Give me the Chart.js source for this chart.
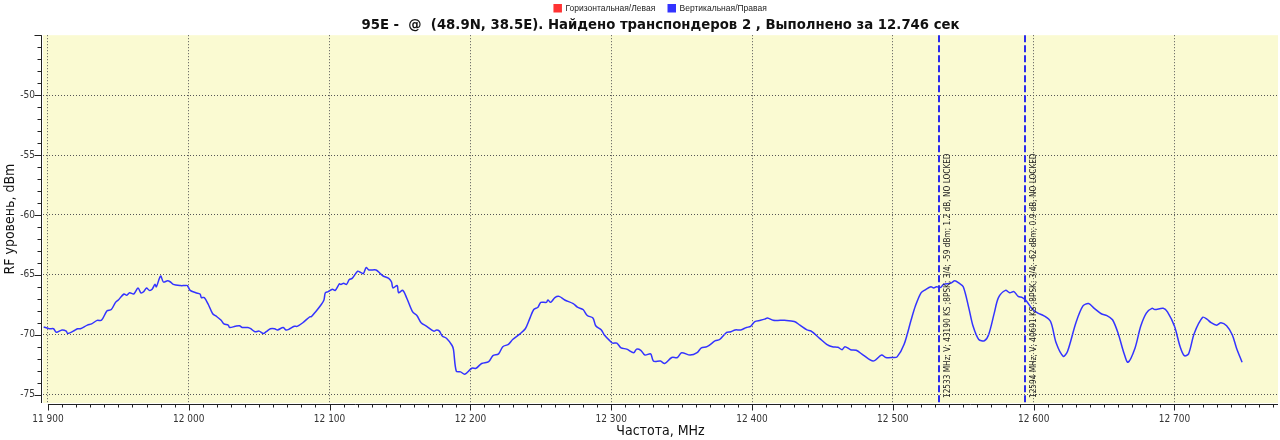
<!DOCTYPE html>
<html>
<head>
<meta charset="utf-8">
<script src="https://cdn.jsdelivr.net/npm/chart.js@4/dist/chart.umd.min.js"></script>
<style>
  body { margin: 0; background: #fff; }
  #wrap { width: 1280px; height: 440px; }
</style>
</head>
<body>
<div id="wrap"><canvas id="spectrum" width="1280" height="440"></canvas></div>
<script>
// spectrum trace, vertical polarisation (MHz / dBm)
const freqs = [
  11897, 11901, 11904, 11906, 11910, 11913, 11914, 11918, 11921, 11923,
  11928, 11931, 11935, 11938, 11942, 11945, 11948, 11950, 11954, 11956,
  11958, 11961, 11964, 11966, 11968, 11970, 11972, 11974, 11976, 11977,
  11980, 11982, 11985, 11987, 11989, 11994, 11997, 11999, 12001, 12005,
  12008, 12009, 12011, 12014, 12017, 12020, 12023, 12025, 12028, 12029,
  12033, 12036, 12038, 12042, 12044, 12047, 12050, 12053, 12055, 12058,
  12061, 12063, 12067, 12069, 12071, 12075, 12077, 12081, 12086, 12087,
  12090, 12094, 12096, 12097, 12099, 12102, 12104, 12107, 12108, 12110,
  12112, 12114, 12116, 12120, 12122, 12124, 12126, 12128, 12133, 12136,
  12138, 12142, 12144, 12145, 12148, 12149, 12152, 12155, 12159, 12162,
  12165, 12169, 12174, 12176, 12178, 12180, 12183, 12187, 12188, 12190,
  12193, 12196, 12201, 12204, 12208, 12213, 12216, 12220, 12223, 12227,
  12230, 12235, 12239, 12242, 12245, 12248, 12250, 12254, 12255, 12257,
  12260, 12263, 12267, 12273, 12276, 12280, 12283, 12287, 12289, 12293,
  12295, 12299, 12301, 12304, 12307, 12311, 12316, 12318, 12321, 12324,
  12328, 12330, 12335, 12338, 12343, 12347, 12350, 12356, 12361, 12364,
  12368, 12374, 12377, 12382, 12385, 12388, 12392, 12396, 12399, 12402,
  12406, 12409, 12411, 12415, 12420, 12423, 12430, 12434, 12439, 12442,
  12448, 12453, 12457, 12461, 12464, 12466, 12470, 12474, 12479, 12486,
  12492, 12495, 12500, 12503, 12508, 12513, 12516, 12520, 12523, 12527,
  12529, 12531, 12534, 12536, 12541, 12544, 12547, 12550, 12554, 12557,
  12561, 12565, 12568, 12572, 12575, 12580, 12583, 12586, 12589, 12592,
  12595, 12599, 12603, 12607, 12612, 12616, 12621, 12624, 12630, 12635,
  12639, 12643, 12648, 12652, 12656, 12660, 12664, 12667, 12672, 12676,
  12680, 12684, 12686, 12692, 12695, 12700, 12704, 12707, 12710, 12714,
  12720, 12723, 12726, 12730, 12733, 12737, 12741, 12744, 12748
];
const levelsV = [
  -69.35, -69.5, -69.5, -69.8, -69.6, -69.7, -69.9, -69.7, -69.5, -69.5,
  -69.2, -69.1, -68.8, -68.8, -68.0, -67.9, -67.3, -67.1, -66.6, -66.7,
  -66.5, -66.6, -66.1, -66.5, -66.4, -66.1, -66.3, -66.2, -65.8, -66.0,
  -65.1, -65.6, -65.5, -65.6, -65.8, -65.9, -65.9, -65.9, -66.3, -66.5,
  -66.6, -66.9, -66.9, -67.5, -68.25, -68.5, -68.8, -69.1, -69.2, -69.4,
  -69.3, -69.25, -69.4, -69.4, -69.5, -69.75, -69.7, -69.9, -69.75, -69.5,
  -69.5, -69.6, -69.4, -69.6, -69.55, -69.3, -69.3, -69.0, -68.5, -68.5,
  -68.1, -67.5, -67.1, -66.5, -66.4, -66.2, -66.3, -65.75, -65.8, -65.7,
  -65.8, -65.4, -65.3, -64.7, -64.8, -64.9, -64.4, -64.6, -64.6, -64.9,
  -65.1, -65.3, -65.6, -66.1, -65.9, -66.5, -66.3, -67.0, -68.1, -68.4,
  -69.0, -69.3, -69.7, -69.6, -69.7, -70.1, -70.3, -70.9, -71.25, -73.05,
  -73.1, -73.3, -72.8, -72.8, -72.4, -72.25, -71.75, -71.6, -71.0, -70.8,
  -70.4, -69.95, -69.5, -68.7, -67.9, -67.7, -67.3, -67.3, -67.1, -67.3,
  -66.9, -66.8, -67.1, -67.4, -67.7, -67.9, -68.4, -68.6, -69.25, -69.6,
  -70.0, -70.5, -70.7, -70.7, -71.1, -71.2, -71.5, -71.2, -71.3, -71.7,
  -71.6, -72.2, -72.2, -72.4, -71.9, -71.9, -71.5, -71.7, -71.5, -71.1,
  -71.0, -70.5, -70.4, -69.8, -69.75, -69.6, -69.6, -69.4, -69.3, -68.9,
  -68.8, -68.7, -68.6, -68.8, -68.8, -68.8, -68.9, -69.2, -69.6, -69.7,
  -70.3, -70.8, -71.0, -71.05, -71.25, -71.0, -71.25, -71.3, -71.7, -72.2,
  -71.7, -71.9, -71.9, -71.85, -70.8, -68.75, -67.6, -66.5, -66.25, -66.0,
  -66.1, -66.0, -66.05, -65.8, -65.7, -65.5, -65.7, -66.0, -67.8, -69.3,
  -70.4, -70.5, -70.0, -68.2, -66.9, -66.3, -66.5, -66.4, -66.8, -66.9,
  -67.2, -67.85, -68.2, -68.4, -68.9, -70.7, -71.8, -71.4, -69.0, -67.6,
  -67.4, -67.8, -68.25, -68.4, -68.75, -69.9, -71.5, -72.3, -71.1, -69.3,
  -68.2, -67.8, -67.9, -67.8, -68.1, -69.3, -71.0, -71.75, -71.6, -69.9,
  -68.55, -68.7, -69.0, -69.2, -69.0, -69.25, -70.0, -71.1, -72.3
];

// found transponders
const tpFreqs = [12533, 12594];
const tpLabels = [
  '12533 MHz; V; 43190 KS ;8PSK; 3/4; -59 dBm; 1.2 dB, NO LOCKED',
  '12594 MHz; V; 40691 KS ;8PSK; 3/4; -62 dBm; 0.9 dB, NO LOCKED'
];

const seriesNames = ['Горизонтальная/Левая', 'Вертикальная/Правая'];
const xTicks = [11900, 12000, 12100, 12200, 12300, 12400, 12500, 12600, 12700];
const yTicks = [-75, -70, -65, -60, -55, -50];

const titleText = '95E -  @  (48.9N, 38.5E). Найдено транспондеров 2 , Выполнено за 12.746 сек';

const blue = '#3333ff';
const red = '#ff3333';

function fmtFreq(v) {
  return String(v).replace(/\B(?=(\d{3})+(?!\d))/g, ' ');
}

// yellow plot background
const plotBg = {
  id: 'plotBg',
  beforeDraw(chart) {
    const {ctx, chartArea: a} = chart;
    ctx.save();
    ctx.fillStyle = '#fafad2';
    ctx.fillRect(a.left, a.top, a.right - a.left, a.bottom - a.top);
    ctx.restore();
  }
};

// axis lines with major and minor tick marks
const axisTicks = {
  id: 'axisTicks',
  afterDraw(chart) {
    const {ctx, chartArea: a, scales} = chart;
    const xs = scales.x, ys = scales.y;
    ctx.save();
    ctx.strokeStyle = '#222';
    ctx.lineWidth = 1;
    ctx.beginPath();
    // y axis
    ctx.moveTo(a.left - 1.5, a.top);
    ctx.lineTo(a.left - 1.5, a.bottom);
    for (let v = Math.ceil(ys.min); v <= Math.floor(ys.max); v++) {
      const y = Math.round(ys.getPixelForValue(v)) + 0.5;
      const len = v % 5 === 0 ? 7 : 4;
      ctx.moveTo(a.left - 1.5 - len, y);
      ctx.lineTo(a.left - 1.5, y);
    }
    // x axis
    const xb = a.bottom + 1.5;
    ctx.moveTo(xs.getPixelForValue(11900), xb);
    ctx.lineTo(a.right, xb);
    for (let v = 11900; v <= xs.max; v += 10) {
      const x = Math.round(xs.getPixelForValue(v)) + 0.5;
      const len = v % 100 === 0 ? 6 : 3;
      ctx.moveTo(x, xb);
      ctx.lineTo(x, xb + len);
    }
    ctx.stroke();
    ctx.restore();
  }
};

// transponder markers: dashed line + vertical caption
const transponders = {
  id: 'transponders',
  afterDatasetsDraw(chart) {
    const {ctx, chartArea: a, scales} = chart;
    ctx.save();
    tpFreqs.forEach((f, i) => {
      const x = Math.round(scales.x.getPixelForValue(f));
      ctx.strokeStyle = '#2b2bee';
      ctx.lineWidth = 2;
      ctx.setLineDash([7, 3]);
      ctx.beginPath();
      ctx.moveTo(x, a.top);
      ctx.lineTo(x, a.bottom);
      ctx.stroke();

      ctx.setLineDash([]);
      ctx.translate(x + 9, a.bottom - 5);
      ctx.rotate(-Math.PI / 2);
      ctx.fillStyle = '#222';
      ctx.font = '8.2px "DejaVu Sans Condensed"';
      ctx.textAlign = 'left';
      ctx.textBaseline = 'middle';
      ctx.fillText(tpLabels[i], 0, 0);
      ctx.setTransform(1, 0, 0, 1, 0, 0);
    });
    ctx.restore();
  }
};

const ctx = document.getElementById('spectrum').getContext('2d');
new Chart(ctx, {
  type: 'line',
  data: {
    datasets: [
      {
        label: seriesNames[0],
        data: [],
        borderColor: red,
        backgroundColor: red,
        borderWidth: 1.5,
        pointRadius: 0
      },
      {
        label: seriesNames[1],
        data: freqs.map((f, i) => ({x: f, y: levelsV[i]})),
        borderColor: blue,
        backgroundColor: blue,
        borderWidth: 1.5,
        pointRadius: 0,
        tension: 0.3
      }
    ]
  },
  options: {
    responsive: false,
    animation: false,
    devicePixelRatio: 1,
    layout: { padding: { top: -9, right: 2, left: 0, bottom: 0 } },
    plugins: {
      tooltip: { enabled: false },
      legend: {
        position: 'top',
        fullSize: false,
        weight: 3000,
        maxHeight: 22.5,
        labels: {
          boxWidth: 7,
          boxHeight: 7,
          padding: 13,
          color: '#222',
          font: { family: 'Liberation Sans', size: 8.5 }
        }
      },
      title: {
        display: true,
        text: titleText,
        fullSize: false,
        weight: 500,
        color: '#111',
        font: { family: 'DejaVu Sans Condensed', size: 14.75, weight: 'bold' },
        padding: { top: 3, bottom: 1 }
      }
    },
    scales: {
      x: {
        type: 'linear',
        min: 11896.5,
        max: 12773.5,
        afterBuildTicks: s => { s.ticks = xTicks.map(v => ({value: v})); },
        afterFit: s => { s.height = 37; },
        ticks: {
          autoSkip: false,
          maxRotation: 0,
          padding: 10,
          color: '#333',
          font: { family: 'DejaVu Sans Condensed', size: 10 },
          callback: v => fmtFreq(v)
        },
        grid: { color: '#555', lineWidth: 1, drawTicks: false },
        border: { display: false, dash: [1, 2] },
        title: {
          display: true,
          text: 'Частота, MHz',
          color: '#111',
          font: { family: 'DejaVu Sans Condensed', size: 14 },
          padding: { top: 0, bottom: 0 }
        }
      },
      y: {
        type: 'linear',
        min: -75.7,
        max: -45,
        afterBuildTicks: s => { s.ticks = yTicks.map(v => ({value: v})); },
        afterFit: s => { s.width = 43; },
        ticks: {
          padding: 8,
          color: '#333',
          font: { family: 'DejaVu Sans Condensed', size: 10 }
        },
        grid: { color: '#555', lineWidth: 1, drawTicks: false },
        border: { display: false, dash: [1, 2] },
        title: {
          display: true,
          text: 'RF уровень, dBm',
          color: '#111',
          font: { family: 'DejaVu Sans Condensed', size: 14 },
          padding: { top: 2, bottom: 0 }
        }
      }
    }
  },
  plugins: [plotBg, axisTicks, transponders]
});
</script>
</body>
</html>
